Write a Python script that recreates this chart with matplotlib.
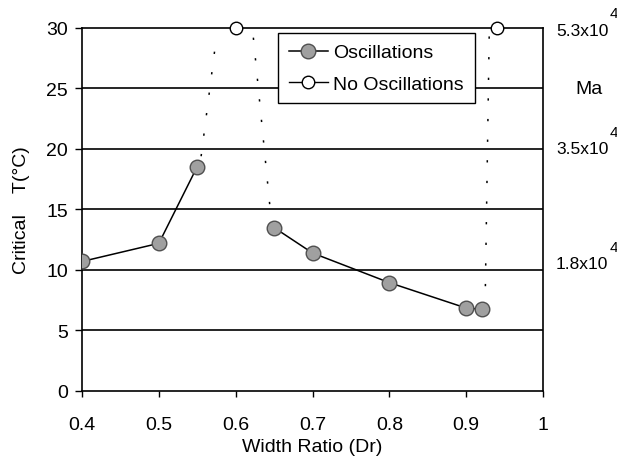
import numpy as np
import matplotlib.pyplot as plt
from matplotlib.lines import Line2D

# Oscillations: two separate branches
osc_x1 = [0.4, 0.5, 0.55]
osc_y1 = [10.7, 12.2, 18.55]
osc_x2 = [0.65, 0.7, 0.8, 0.9, 0.92]
osc_y2 = [13.5, 11.4, 8.95, 6.85, 6.75]

# No oscillations
noosc_x = [0.6, 0.94]
noosc_y = [30, 30]

# dotted guide lines (as drawn on the original)
dot1_x = [0.555, 0.575]
dot1_y = [19.4, 29.3]
dot2_x = [0.623, 0.646]
dot2_y = [29.2, 14.3]
dot3_x = [0.93, 0.925]
dot3_y = [29.3, 8.4]

# Marangoni number labels on the right side
ma_pos = [10.5, 20, 29.8]
ma_base = ['1.8x10', '3.5x10', '5.3x10']
ma_exp = ['4', '4', '4']

plt.rcParams['font.family'] = ['Liberation Sans', 'DejaVu Sans']

fig = plt.figure(figsize=(6.17, 4.6), dpi=100)
ax = fig.add_axes([0.133, 0.148, 0.747, 0.789])

for yy in range(5, 30, 5):
    ax.axhline(yy, color='black', lw=1.2, zorder=1)

dot_style = dict(color='black', lw=1.1, linestyle=(0, (1.5, 12)), zorder=2)
ax.plot(dot1_x, dot1_y, **dot_style)
ax.plot(dot2_x, dot2_y, **dot_style)
ax.plot(dot3_x, dot3_y, **dot_style)

mk = dict(marker='o', markersize=10.5, markerfacecolor='#a0a0a0',
          markeredgecolor='#505050', markeredgewidth=1.0, color='black', lw=1.1)
ax.plot(osc_x1, osc_y1, zorder=3, **mk)
ax.plot(osc_x2, osc_y2, zorder=3, **mk)
ax.plot(noosc_x, noosc_y, linestyle='none', marker='o', markersize=9,
        markerfacecolor='white', markeredgecolor='black',
        markeredgewidth=1.0, zorder=4, clip_on=False)

ax.set_xlim(0.4, 1.0)
ax.set_ylim(0, 30)
ax.set_xticks([0.4, 0.5, 0.6, 0.7, 0.8, 0.9, 1.0])
ax.set_xticklabels(['0.4', '0.5', '0.6', '0.7', '0.8', '0.9', '1'])
ax.set_yticks(range(0, 31, 5))
ax.tick_params(axis='x', direction='out', length=4, width=1, labelsize=14, pad=14)
ax.tick_params(axis='y', direction='out', length=5, width=1, labelsize=14, pad=5)
for s in ax.spines.values():
    s.set_linewidth(1.2)

ax.set_xlabel('Width Ratio (Dr)', fontsize=14)
ax.xaxis.set_label_coords(0.5, -0.13)
ax.set_ylabel('Critical    T(°C)', fontsize=14)
ax.yaxis.set_label_coords(-0.113, 0.5)

tr = ax.get_yaxis_transform()
for yv, base, ex in zip(ma_pos, ma_base, ma_exp):
    ax.text(1.028, yv, base, transform=tr, fontsize=12.5, ha='left', va='center')
    ax.annotate(ex, xy=(1.144, yv), xycoords=tr, xytext=(0, 12.5),
                textcoords='offset points', fontsize=11, ha='left', va='center')
ax.text(1.1, 25, 'Ma', transform=tr, fontsize=14, ha='center', va='center')

h1 = Line2D([], [], **mk)
h2 = Line2D([], [], color='black', lw=1.0, marker='o', markersize=9,
            markerfacecolor='white', markeredgecolor='black')
leg = ax.legend([h1, h2], ['Oscillations', 'No Oscillations'],
                loc='upper right', bbox_to_anchor=(0.852, 0.986),
                fontsize=14, frameon=True, fancybox=False, framealpha=1,
                edgecolor='black', handlelength=2.0, borderpad=0.55,
                labelspacing=0.7, handletextpad=0.3, borderaxespad=0)
leg.get_frame().set_linewidth(1.0)
leg.set_zorder(5)

fig.savefig('out.png', dpi=100)
